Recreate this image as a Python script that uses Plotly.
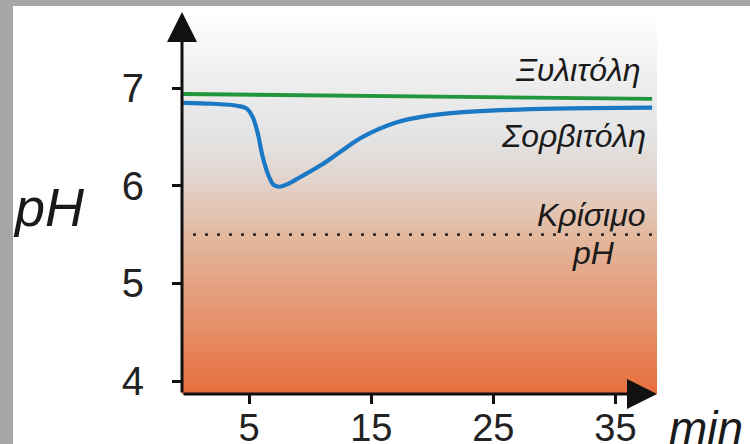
import plotly.graph_objects as go
import numpy as np

# ---- data ----
xylitol_t = [-0.4, 38.0]
xylitol_ph = [6.94, 6.89]

sorbitol_t = [-0.4, 2.0, 4.0, 4.8, 5.3, 5.7, 6.1, 6.6, 7.0, 7.5, 8.2, 9.2, 11.0, 12.5, 14.3, 17.1, 19.8, 22.0, 24.8, 30.0, 38.0]
sorbitol_ph = [6.85, 6.84, 6.82, 6.79, 6.70, 6.54, 6.30, 6.10, 6.01, 5.99, 6.02, 6.09, 6.22, 6.35, 6.50, 6.65, 6.72, 6.75, 6.77, 6.79, 6.80]

critical_t = [0.4, 38.0]
critical_ph = [5.5, 5.5]

x_ticks = [5, 15, 25, 35]
y_ticks = [4, 5, 6, 7]

X_MIN, X_MAX = -0.5, 38.4
Y_MIN, Y_MAX = 3.867, 7.78

# background gradient (style only)
grad_y = list(np.linspace(Y_MIN, Y_MAX, 60))
grad_z = [[v, v] for v in grad_y]
grad_scale = [
    [0.0, "#e86e3c"],
    [0.24, "#e49a78"],
    [0.42, "#e3b9a0"],
    [0.57, "#e2d5cf"],
    [0.67, "#e3e3e3"],
    [0.85, "#f0f0f0"],
    [1.0, "#ffffff"],
]

fig = go.Figure()
fig.add_trace(go.Heatmap(x=[-5, 45], y=grad_y, z=grad_z, colorscale=grad_scale,
                         zmin=Y_MIN, zmax=Y_MAX, showscale=False, zsmooth="best",
                         hoverinfo="skip"))
fig.add_trace(go.Scatter(x=critical_t, y=critical_ph, mode="lines",
                         line=dict(color="#333333", width=2.8, dash="3px,9px"),
                         hoverinfo="skip"))
fig.add_trace(go.Scatter(x=xylitol_t, y=xylitol_ph, mode="lines",
                         line=dict(color="#22963c", width=3.8)))
fig.add_trace(go.Scatter(x=sorbitol_t, y=sorbitol_ph, mode="lines",
                         line=dict(color="#1b78c4", width=4.2, shape="spline", smoothing=1.0)))

font_family = "Liberation Sans, Arial, sans-serif"
ann = []
# axis arrows
ann.append(dict(x=X_MIN, y=Y_MAX, ax=X_MIN, ay=Y_MIN, xref="x", yref="y", axref="x", ayref="y",
                showarrow=True, arrowhead=2, arrowsize=2.0, arrowwidth=3, arrowcolor="#111111", text=""))
ann.append(dict(x=X_MAX, y=Y_MIN, ax=X_MIN, ay=Y_MIN, xref="x", yref="y", axref="x", ayref="y",
                showarrow=True, arrowhead=2, arrowsize=2.0, arrowwidth=3, arrowcolor="#111111", text=""))
# labels
def lab(text, x, y, size, xanchor="right", xref="x", yref="y"):
    return dict(text=text, x=x, y=y, xref=xref, yref=yref, showarrow=False, xanchor=xanchor,
                yanchor="middle", font=dict(family=font_family, size=size, color="#1a1a1a", style="italic"))

ann.append(lab("Ξυλιτόλη", 37.2, 7.19, 32))
ann.append(lab("Σορβιτόλη", 37.7, 6.51, 32))
ann.append(lab("Κρίσιμο", 37.7, 5.70, 32))
ann.append(lab("pH", 33.2, 5.31, 32, xanchor="center"))
ann.append(lab("pH", -0.36, 0.49, 54, xanchor="left", xref="paper", yref="paper"))
ann.append(lab("min", 1.02, -0.09, 46, xanchor="left", xref="paper", yref="paper"))

gray = "#a6a6a6"
fig.update_layout(
    template="none",
    width=750, height=444,
    margin=dict(l=182, r=93, t=12, b=50),
    paper_bgcolor="#ffffff",
    plot_bgcolor="#ffffff",
    showlegend=False,
    annotations=ann,
    shapes=[
        dict(type="rect", xref="paper", yref="paper", x0=-0.5, x1=-0.3558, y0=-0.2, y1=1.2,
             fillcolor=gray, line=dict(width=0), layer="below"),
        dict(type="rect", xref="paper", yref="paper", x0=-0.5, x1=1.3, y0=1.0157, y1=1.2,
             fillcolor=gray, line=dict(width=0), layer="below"),
    ],
    xaxis=dict(range=[X_MIN, X_MAX], tickvals=x_ticks, ticktext=[str(v) for v in x_ticks],
               ticks="outside", ticklen=9, tickwidth=3, tickcolor="#111111", automargin=False,
               showgrid=False, zeroline=False, showline=False, ticklabelstandoff=-9,
               tickfont=dict(family=font_family, size=38, color="#222222")),
    yaxis=dict(range=[Y_MIN, Y_MAX], tickvals=y_ticks, ticktext=[str(v) for v in y_ticks],
               ticks="outside", ticklen=9, tickwidth=3, tickcolor="#111111", automargin=False,
               showgrid=False, zeroline=False, showline=False, ticklabelstandoff=20,
               tickfont=dict(family=font_family, size=40, color="#222222")),
)

fig.write_html("out.html", config={"displayModeBar": False},
               post_script="document.body.style.margin='0';document.body.style.overflow='hidden';")
